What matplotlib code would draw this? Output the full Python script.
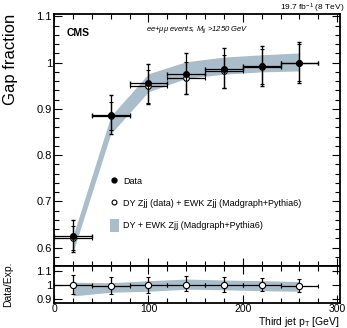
import matplotlib
matplotlib.use('Agg')
import matplotlib.pyplot as plt
from matplotlib.lines import Line2D
from matplotlib.patches import Patch
from matplotlib.ticker import MultipleLocator, FuncFormatter

plt.rcParams['font.family'] = ['Liberation Sans', 'DejaVu Sans']
plt.rcParams['mathtext.fontset'] = 'custom'
plt.rcParams['mathtext.rm'] = 'Liberation Sans'
plt.rcParams['mathtext.it'] = 'Liberation Sans:italic'

# third jet pT bins (centres, half width)
pt = [20, 60, 100, 140, 180, 220, 260]
pt_err = [20, 20, 20, 20, 20, 20, 20]

# gap fraction, data
gf_data = [0.624, 0.886, 0.955, 0.975, 0.987, 0.993, 1.000]
gf_data_lo = [0.034, 0.040, 0.045, 0.043, 0.042, 0.043, 0.044]
gf_data_hi = [0.036, 0.043, 0.043, 0.045, 0.044, 0.044, 0.044]

# DY Zjj (data) + EWK Zjj
gf_exp = [0.621, 0.884, 0.949, 0.967, 0.981, 0.991, 1.000]
gf_exp_err = [0.026, 0.030, 0.036, 0.034, 0.035, 0.038, 0.040]

# DY + EWK Zjj (Madgraph+Pythia6) band
band_lo = [0.590, 0.846, 0.937, 0.966, 0.975, 0.980, 0.982]
band_hi = [0.625, 0.884, 0.976, 1.002, 1.012, 1.017, 1.021]

# ratio panel
ratio = [1.005, 0.998, 1.000, 1.005, 1.002, 1.000, 0.995]
ratio_lo = [0.072, 0.060, 0.060, 0.050, 0.052, 0.045, 0.045]
ratio_hi = [0.066, 0.062, 0.060, 0.062, 0.058, 0.053, 0.050]
rband_lo = [0.922, 0.949, 0.956, 0.971, 0.967, 0.960, 0.956]
rband_hi = [1.022, 1.018, 1.033, 1.045, 1.038, 1.033, 1.027]

band_color = '#aabdca'

fig = plt.figure(figsize=(3.47, 3.28), dpi=100)
ax = fig.add_axes([0.156, 0.189, 0.824, 0.768])
rax = fig.add_axes([0.156, 0.076, 0.824, 0.113])

fmt = FuncFormatter(lambda v, p: '%g' % round(v, 3))

# main panel
ax.fill_between(pt, band_lo, band_hi, color=band_color, lw=0, zorder=1)
ax.errorbar(pt, gf_exp, yerr=gf_exp_err, xerr=pt_err, fmt='o', mfc='white',
            mec='black', mew=0.8, ms=4, color='black', ecolor='black',
            elinewidth=0.9, capsize=1.5, zorder=3)
ax.errorbar(pt, gf_data, yerr=[gf_data_lo, gf_data_hi], xerr=pt_err, fmt='o',
            color='black', ms=4, elinewidth=0.9, capsize=1.5, zorder=4)

ax.set_xlim(0, 303)
ax.set_ylim(0.56, 1.105)
ax.yaxis.set_major_locator(MultipleLocator(0.1))
ax.yaxis.set_minor_locator(MultipleLocator(0.02))
ax.xaxis.set_major_locator(MultipleLocator(100))
ax.xaxis.set_minor_locator(MultipleLocator(20))
ax.yaxis.set_major_formatter(fmt)
ax.tick_params(labelbottom=False)
ax.set_ylabel('Gap fraction', fontsize=12)

ax.text(0.045, 0.925, 'CMS', transform=ax.transAxes, fontsize=7.5,
        fontweight='bold', va='center', ha='left')
ax.text(0.5, 0.94, r'ee+$\mu\mu$ events, $M_{jj}$ >1250 GeV', transform=ax.transAxes,
        fontsize=5.5, style='italic', va='center', ha='center')
fig.text(0.992, 0.975, r'19.7 fb$^{-1}$ (8 TeV)', fontsize=6, ha='right', va='center')

handles = [
    Line2D([], [], marker='o', color='black', ls='none', ms=3.5),
    Line2D([], [], marker='o', mfc='white', mec='black', ls='none', ms=3.5, mew=0.8),
    Patch(facecolor=band_color, edgecolor='none'),
]
labels = ['Data', 'DY Zjj (data) + EWK Zjj (Madgraph+Pythia6)',
          'DY + EWK Zjj (Madgraph+Pythia6)']
ax.legend(handles, labels, loc='upper left', bbox_to_anchor=(0.195, 0.362),
          frameon=False, fontsize=6.5, handlelength=1.0, handleheight=1.9,
          handletextpad=0.5, labelspacing=0.95, borderpad=0, borderaxespad=0)

# ratio panel
rax.fill_between(pt, rband_lo, rband_hi, color=band_color, lw=0, zorder=1)
rax.errorbar(pt, ratio, yerr=[ratio_lo, ratio_hi], xerr=pt_err, fmt='o',
             mfc='white', mec='black', mew=0.8, ms=4.5, color='black',
             elinewidth=0.9, capsize=1.5, zorder=3)
rax.set_xlim(0, 303)
rax.set_ylim(0.87, 1.14)
rax.yaxis.set_major_locator(MultipleLocator(0.1))
rax.xaxis.set_major_locator(MultipleLocator(100))
rax.xaxis.set_minor_locator(MultipleLocator(20))
rax.yaxis.set_major_formatter(fmt)
rax.set_ylabel('Data/Exp.', fontsize=7.5)
fig.text(0.98, 0.008, r'Third jet p$_{\mathrm{T}}$ [GeV]', fontsize=7.5,
         ha='right', va='baseline')

for a in (ax, rax):
    for s in a.spines.values():
        s.set_linewidth(1.3)
    a.tick_params(which='both', direction='in', top=True, right=True,
                  width=0.8, labelsize=8, pad=1.5)
    a.tick_params(which='major', length=6)
    a.tick_params(which='minor', length=3.5)
rax.tick_params(axis='x', labelsize=7.5, pad=1)
rax.yaxis.set_label_coords(-0.145, 0.5)
ax.yaxis.set_label_coords(-0.125, 0.82)

fig.savefig('out.png', dpi=100)
